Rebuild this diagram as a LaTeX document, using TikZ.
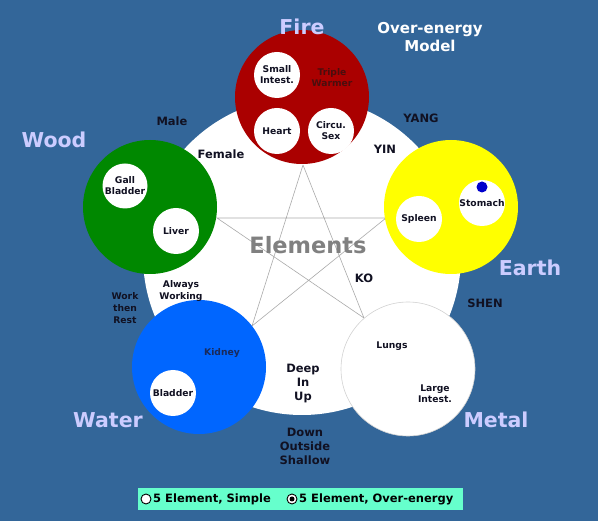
\documentclass[tikz,border=0pt]{standalone}
\usepackage{fontspec}
\setmainfont{DejaVu Sans}
\definecolor{bg}{HTML}{336699}
\definecolor{firec}{HTML}{AA0000}
\definecolor{woodc}{HTML}{008800}
\definecolor{earthc}{HTML}{FFFF00}
\definecolor{waterc}{HTML}{0066FF}
\definecolor{lav}{HTML}{CCCCFF}
\definecolor{txt}{HTML}{111122}
\definecolor{tw}{HTML}{4A0E0E}
\definecolor{kid}{HTML}{1A2A5A}
\definecolor{bar}{HTML}{66FFCC}
\definecolor{pent}{HTML}{AAAAAA}
\definecolor{dotc}{HTML}{0000CC}
\tikzset{
  elem/.style={circle, minimum size=134pt, inner sep=0pt},
  organ/.style={circle, fill=white, minimum size=46pt, inner sep=0pt, align=center,
    text=txt, font=\bfseries\fontsize{9.2}{11}\selectfont},
  inner/.style={align=center, font=\bfseries\fontsize{9.2}{11}\selectfont},
  biglbl/.style={text=lav, font=\bfseries\fontsize{20.5}{24}\selectfont},
  lbl/.style={text=txt, align=center, font=\bfseries\fontsize{11.5}{14}\selectfont},
  small/.style={text=txt, align=center, font=\bfseries\fontsize{9.2}{12}\selectfont},
  pline/.style={draw=pent, line width=0.6pt},
  radio/.style={circle, draw=black, line width=0.9pt, minimum size=10pt, inner sep=0pt, fill=white}
}
\begin{document}
\begin{tikzpicture}[x=1pt,y=-1pt]
\fill[bg] (0,0) rectangle (598,521);
\useasboundingbox (0,0) rectangle (598,521);
% big circle
\node[circle, fill=white, minimum size=318pt, inner sep=0pt] (bigc) at (302,256) {};
% pentagram vertices
\coordinate (pF) at (303,165);
\coordinate (pWo) at (217,218);
\coordinate (pE) at (386,218);
\coordinate (pWa) at (252,326);
\coordinate (pM) at (364,318);
\draw[pline] (pF) -- (pWa) -- (pE) -- (pWo) -- (pM) -- (pF);
% element circles
\node[elem, fill=firec] (fire) at (302,97) {};
\node[elem, fill=woodc] (wood) at (150,207) {};
\node[elem, fill=earthc] (earth) at (451,207) {};
\node[elem, fill=waterc] (water) at (199,367) {};
\node[elem, fill=white, draw=gray!35, line width=0.6pt] (metal) at (408,369) {};
% organs
\node[organ] (si) at (277,75) {Small\\Intest.};
\node[organ] (heart) at (277,131) {Heart};
\node[organ] (cs) at (331,131) {Circu.\\Sex};
\node[inner, text=tw] (tw) at (332,78) {Triple\\Warmer};
\node[organ, minimum size=45pt] (gb) at (125,186) {Gall\\Bladder};
\node[organ] (liver) at (176,231) {Liver};
\node[organ] (spleen) at (419,219) {Spleen};
\node[organ] (stomach) at (482,203) {Stomach};
\node[circle, fill=dotc, inner sep=0pt, minimum size=11pt] (dot) at (482,187) {};
\node[inner, text=kid] (kidney) at (222,353) {Kidney};
\node[organ] (bladder) at (173,393) {Bladder};
\node[inner, text=txt] (lungs) at (392,346) {Lungs};
\node[inner, text=txt] (li) at (435,394) {Large\\Intest.};
% element labels
\node[biglbl] (tfire) at (302,27) {Fire};
\node[biglbl] (twood) at (54,140) {Wood};
\node[biglbl] (tearth) at (530,268) {Earth};
\node[biglbl] (twater) at (108,420) {Water};
\node[biglbl] (tmetal) at (496,420) {Metal};
\node[text=white, align=center, font=\bfseries\fontsize{15}{18}\selectfont] (oem) at (430,37) {Over-energy\\Model};
\node[text=gray, font=\bfseries\fontsize{22.5}{26}\selectfont] (elements) at (308,245) {Elements};
% other labels
\node[lbl] (male) at (172,121) {Male};
\node[lbl] (female) at (221,154) {Female};
\node[lbl] (yang) at (421,118) {YANG};
\node[lbl] (yin) at (385,149) {YIN};
\node[lbl] (ko) at (364,278) {KO};
\node[lbl] (shen) at (485,303) {SHEN};
\node[small] (aw) at (181,291) {Always\\Working};
\node[small] (wtr) at (125,308) {Work\\then\\Rest};
\node[lbl] (deep) at (303,384) {Deep\\In\\Up};
\node[lbl] (down) at (305,446) {Down\\Outside\\Shallow};
% bottom bar
\node[fill=bar, minimum width=325pt, minimum height=22pt, inner sep=0pt] (barbox) at (300.5,499.5) {};
\node[radio] (r1) at (146,499) {};
\node[anchor=west, text=black, font=\bfseries\fontsize{11.5}{14}\selectfont, inner sep=0pt] (t1) at (153,499) {5 Element, Simple};
\node[radio] (r2) at (292,499) {};
\node[circle, fill=black, minimum size=5pt, inner sep=0pt] (r2d) at (r2) {};
\node[anchor=west, text=black, font=\bfseries\fontsize{11.5}{14}\selectfont, inner sep=0pt] (t2) at (299,499) {5 Element, Over-energy};
\end{tikzpicture}
\end{document}
